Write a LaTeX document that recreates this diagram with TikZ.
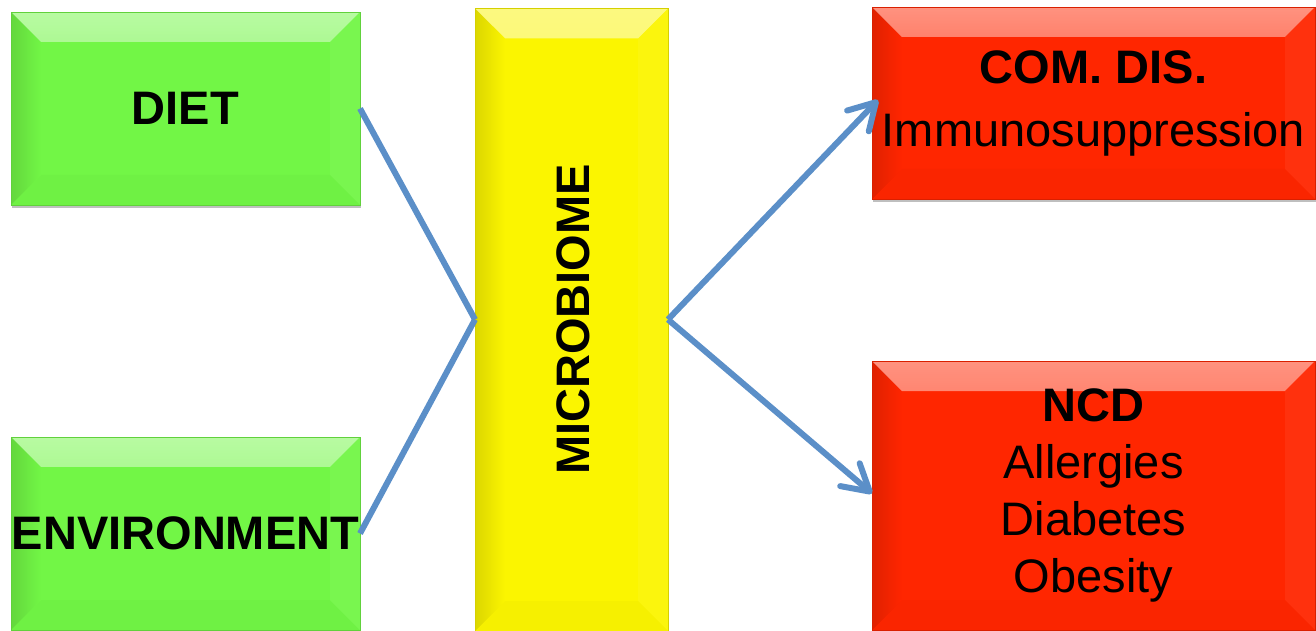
\documentclass[tikz,border=0pt]{standalone}
\usepackage{fontspec}
\setmainfont{Liberation Sans}
\usetikzlibrary{arrows.meta,shadows,fadings}
\definecolor{grn}{HTML}{72F646}
\definecolor{yel}{HTML}{FBF500}
\definecolor{rd}{HTML}{FF2600}
\definecolor{arr}{HTML}{5B8FC8}
\newcommand\ppb{path picture bounding box}
\tikzset{
  bevel/.style={path picture={
    \fill[white,opacity=0.5,path fading=south] (\ppb.north west) -- (\ppb.north east) -- ([xshift=-30pt,yshift=-30pt]\ppb.north east) -- ([xshift=30pt,yshift=-30pt]\ppb.north west) -- cycle;
    \fill[black,opacity=0.12,path fading=east] (\ppb.north west) -- ([xshift=30pt,yshift=-30pt]\ppb.north west) -- ([xshift=30pt,yshift=30pt]\ppb.south west) -- (\ppb.south west) -- cycle;
    \fill[white,opacity=0.05] (\ppb.north east) -- ([xshift=-30pt,yshift=-30pt]\ppb.north east) -- ([xshift=-30pt,yshift=30pt]\ppb.south east) -- (\ppb.south east) -- cycle;
    \fill[black,opacity=0.02] (\ppb.south west) -- ([xshift=30pt,yshift=30pt]\ppb.south west) -- ([xshift=-30pt,yshift=30pt]\ppb.south east) -- (\ppb.south east) -- cycle;
  }},
  box/.style={bevel, fill=#1, draw=#1!85!black, line width=0.6pt, inner sep=0pt, outer sep=0pt,
    align=center, font=\fontsize{47}{57}\selectfont,
    drop shadow={shadow xshift=1pt, shadow yshift=-3pt, opacity=0.25, fill=black}},
  conn/.style={draw=arr, line width=6pt},
  tipped/.style={-{Straight Barb[length=26pt,width=30pt,round]}},
}
\begin{document}
\begin{tikzpicture}[x=1pt,y=-1pt]
\useasboundingbox (0,0) rectangle (1316,631);
\node[box=grn, minimum width=349pt, minimum height=193pt] (diet) at (185.5,108.5) {\textbf{DIET}};
\node[box=grn, minimum width=349pt, minimum height=193pt] (env) at (185.5,533.5) {\textbf{ENVIRONMENT}};
\node[box=yel, minimum width=193pt, minimum height=623pt] (micro) at (571.5,319.5) {};
\node[rotate=90, font=\fontsize{47}{57}\selectfont, inner sep=0pt] (microtxt) at (573.5,319.5) {\textbf{MICROBIOME}};
\node[box=rd, minimum width=443pt, minimum height=192pt] (com) at (1093.5,103) {\textbf{COM. DIS.}\\[6pt]Immunosuppression};
\node[box=rd, minimum width=443pt, minimum height=269pt] (ncd) at (1093.5,495.5) {\textbf{NCD}\\Allergies\\Diabetes\\Obesity};
\draw[conn] (diet.east) -- (micro.west);
\draw[conn] (env.east) -- (micro.west);
\draw[conn,tipped] (micro.east) -- ([xshift=6pt,yshift=3pt]com.west);
\draw[conn,tipped] (micro.east) -- ([yshift=2pt]ncd.west);
\end{tikzpicture}
\end{document}
